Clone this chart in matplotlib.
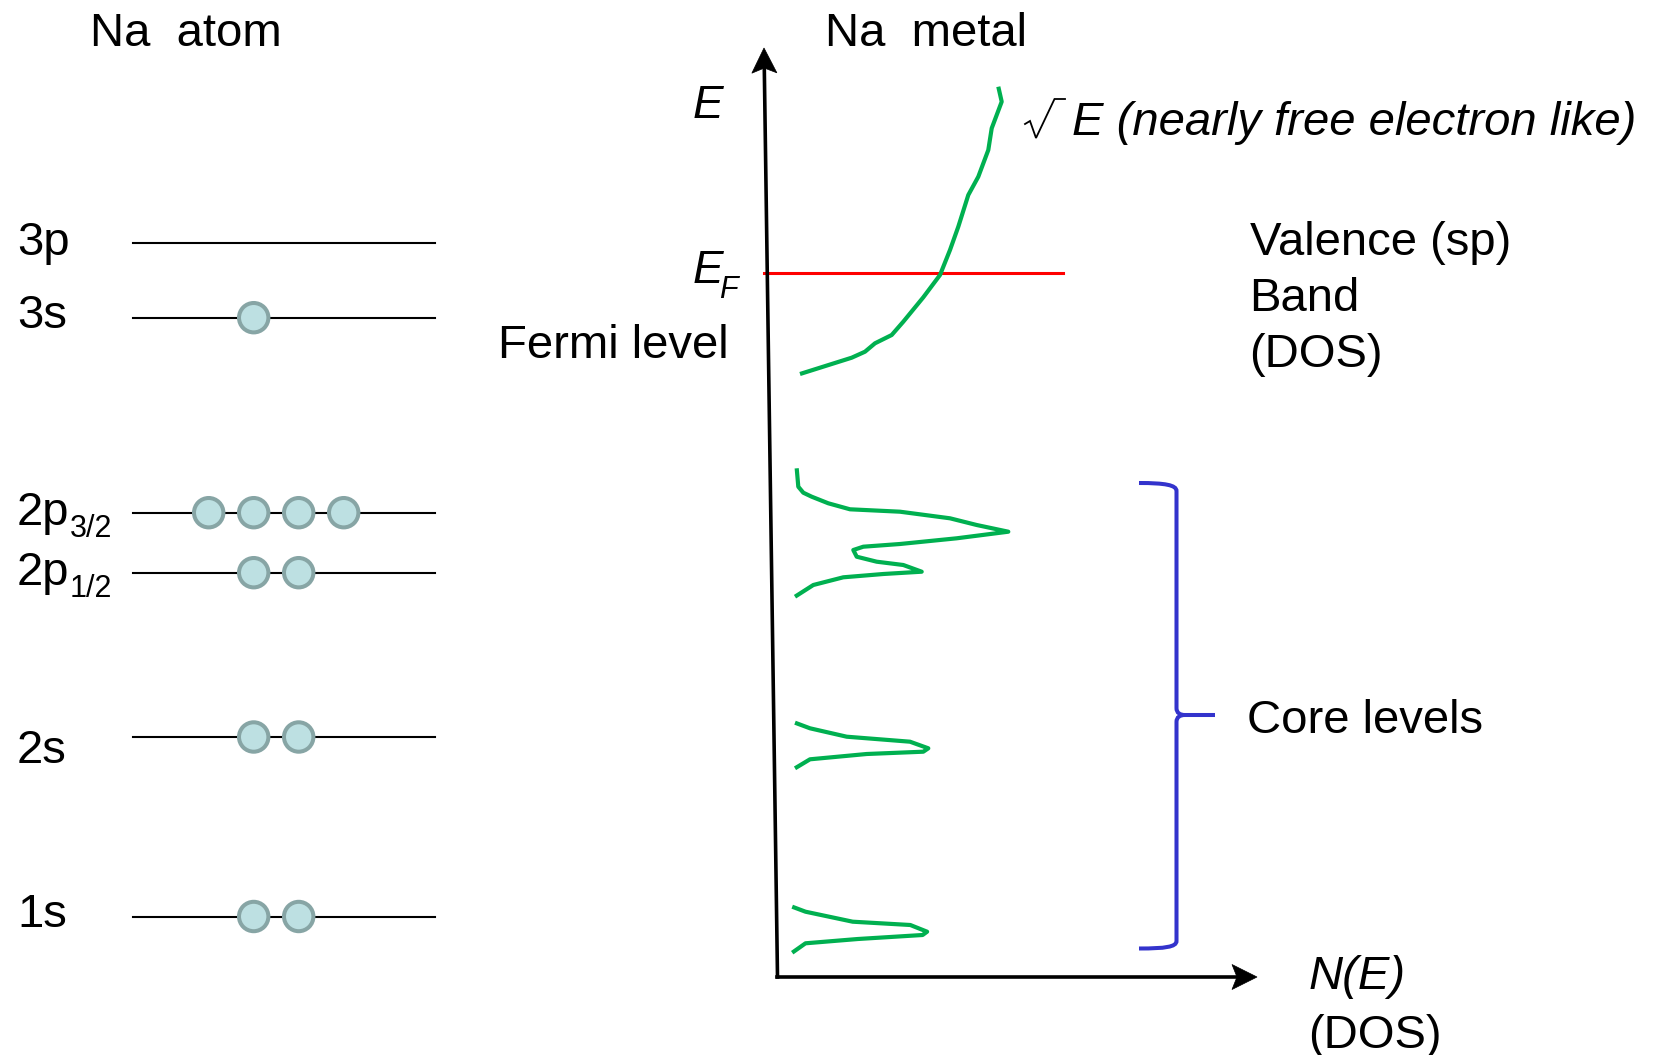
import matplotlib
matplotlib.use("Agg")
import matplotlib.pyplot as plt
import numpy as np
from matplotlib.patches import Circle, Polygon, PathPatch
from matplotlib.path import Path

plt.rcParams['font.family'] = ['Liberation Sans', 'DejaVu Sans']

# ---------------- data (picture coordinates, px; y grows downward) ----------------
# Na atom energy levels
level_names = ['3p', '3s', '2p', '2p', '2s', '1s']
level_subs = ['', '', '3/2', '1/2', '', '']
level_y = [242.7, 317.7, 512.7, 572.7, 737.0, 916.5]
level_label_base = [255, 328, 525, 585, 763, 927]
electron_slots = [[], [1], [0, 1, 2, 3], [1, 2], [1, 2], [1, 2]]
level_x_range = [133, 435]
slot_x = [208.7, 253.7, 298.7, 343.7]

# Na metal DOS curves (N, E)
valence_N = [800, 851.7, 865, 875, 891.7, 903.3, 923.3, 940, 950, 958.3, 968.3, 978.3, 988.3, 991.7, 1001.7, 998.3]
valence_E = [374, 357.7, 351.7, 343.3, 335, 321.7, 297.3, 275, 250, 226.7, 195, 176.7, 150, 128.3, 101.7, 86.7]

core2p_N = [796.7, 798.3, 803.3, 811.7, 828.3, 850, 900, 950, 976.7, 1008.3, 956.7, 900, 863.3, 853.3,
            856.7, 876.7, 903.3, 921.7, 883.3, 843.3, 813.3, 795]
core2p_E = [468.3, 486.7, 492.7, 496.7, 503.3, 509.3, 511.7, 518.3, 525, 531.7, 538.3, 544, 546.7, 550,
            556.7, 561.7, 565, 571.7, 574, 577.3, 585, 596.7]

core2s_N = [795, 810, 846.7, 910, 928.3, 923.3, 866.7, 810, 795]
core2s_E = [722.7, 728.3, 736.7, 741.7, 748.3, 751.7, 754, 759.3, 768.3]

core1s_N = [792.2, 805.5, 852.7, 910.3, 927.1, 922.6, 857.9, 805.5, 792.2]
core1s_E = [906.7, 911.7, 921.7, 925, 931.7, 935, 939, 943.3, 952.7]

fermi_E = 272.7
fermi_N_range = [764, 1063]

# ---------------- figure ----------------
fig = plt.figure(figsize=(16.65, 10.55), dpi=100)
ax = fig.add_axes([0, 0, 1, 1])
ax.set_xlim(0, 1665)
ax.set_ylim(1055, 0)
ax.axis('off')

FS = 34
GREEN = '#00b050'


def arrow(start, tip, head_len=25.0, half_w=12.5, notch=5.0):
    s = np.array(start, float)
    t = np.array(tip, float)
    d = (t - s) / np.linalg.norm(t - s)
    n = np.array([-d[1], d[0]])
    base = t - d * head_len
    ax.plot([s[0], (t - d * (head_len - notch))[0]], [s[1], (t - d * (head_len - notch))[1]],
            color='black', lw=2.6, solid_capstyle='projecting', zorder=4)
    head = [t, base + n * half_w, t - d * (head_len - notch), base - n * half_w]
    ax.add_patch(Polygon(head, closed=True, facecolor='black', edgecolor='black', lw=0.5, zorder=4))


# titles
ax.text(90, 45.7, 'Na  atom', fontsize=FS, va='baseline', ha='left')
ax.text(825, 45.7, 'Na  metal', fontsize=FS, va='baseline', ha='left')

# atomic levels
for name, sub, y, yb, slots in zip(level_names, level_subs, level_y, level_label_base, electron_slots):
    ax.plot(level_x_range, [y, y], color='black', lw=1.5, zorder=2)
    ax.text(17, yb, name, fontsize=FS, va='baseline', ha='left')
    if sub:
        ax.text(70, yb + 11.7, sub, fontsize=22, va='baseline', ha='left')
    for s in slots:
        ax.add_patch(Circle((slot_x[s], y), 14.7, facecolor='#bde0e2', edgecolor='#87a5a5',
                            lw=2.9, zorder=3))

# axes arrows
corner = (777.5, 977)
arrow(corner, (764, 48))
arrow(corner, (1257, 977))

# Fermi level
ax.plot(fermi_N_range, [fermi_E, fermi_E], color='#ff0000', lw=2.2, zorder=3)

# DOS curves
for N, E in [(valence_N, valence_E), (core2p_N, core2p_E), (core2s_N, core2s_E), (core1s_N, core1s_E)]:
    ax.plot(N, E, color=GREEN, lw=3.0, solid_joinstyle='round', solid_capstyle='butt', zorder=3)

# brace for core levels
verts = [(1139, 483), (1165, 483), (1176.5, 485), (1176.5, 491),
         (1176.5, 708),
         (1176.5, 713), (1180, 715), (1185, 715),
         (1215, 715),
         (1185, 715),
         (1180, 715), (1176.5, 717), (1176.5, 722),
         (1176.5, 941),
         (1176.5, 947), (1165, 948.5), (1139, 948.5)]
codes = [Path.MOVETO, Path.CURVE4, Path.CURVE4, Path.CURVE4,
         Path.LINETO,
         Path.CURVE4, Path.CURVE4, Path.CURVE4,
         Path.LINETO,
         Path.MOVETO,
         Path.CURVE4, Path.CURVE4, Path.CURVE4,
         Path.LINETO,
         Path.CURVE4, Path.CURVE4, Path.CURVE4]
ax.add_patch(PathPatch(Path(verts, codes), facecolor='none', edgecolor='#3333cc', lw=2.9,
                       capstyle='butt', zorder=3))

# labels on the metal side
ax.text(693, 118.3, 'E', fontsize=33, style='italic', va='baseline', ha='left')
ax.text(693, 283.3, 'E', fontsize=33, style='italic', va='baseline', ha='left')
ax.text(719, 298.3, 'F', fontsize=22, style='italic', va='baseline', ha='left')
ax.text(498, 358.3, 'Fermi level', fontsize=FS, va='baseline', ha='left')

# radical sign
ax.plot([1025, 1030, 1036, 1054.5, 1065], [124, 121, 138, 99, 99], color='black', lw=1.3,
        solid_joinstyle='miter')
ax.text(1072, 135, 'E (nearly free electron like)', fontsize=FS, style='italic',
        va='baseline', ha='left')

ax.text(1250, 255, 'Valence (sp)', fontsize=FS, va='baseline', ha='left')
ax.text(1249, 311, 'Band', fontsize=FS, va='baseline', ha='left')
ax.text(1249, 367, '(DOS)', fontsize=FS, va='baseline', ha='left')
ax.text(1247.5, 733.3, 'Core levels', fontsize=FS, va='baseline', ha='left')
ax.text(1309, 989.3, 'N(E)', fontsize=FS, style='italic', va='baseline', ha='left')
ax.text(1308, 1048, '(DOS)', fontsize=FS, va='baseline', ha='left')

fig.savefig('out.png', dpi=100)
